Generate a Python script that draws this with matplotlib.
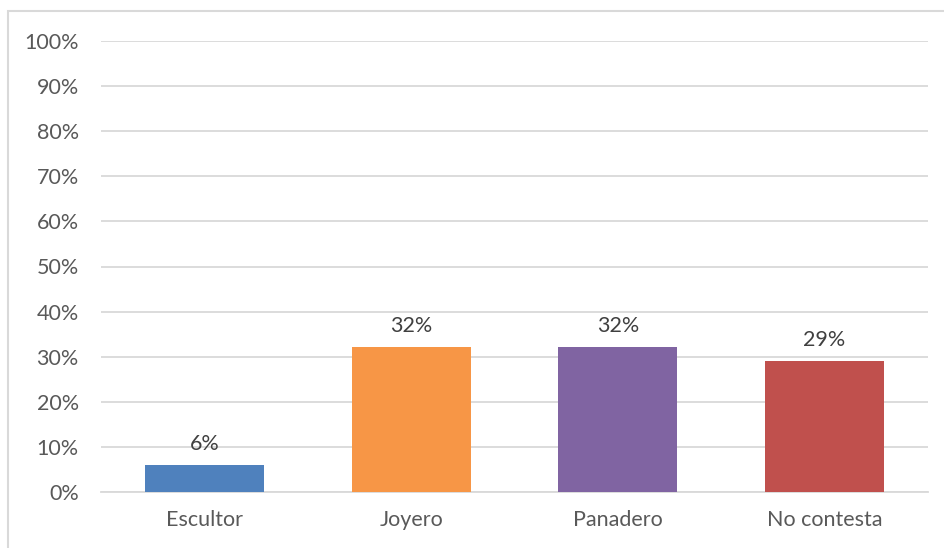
import matplotlib.pyplot as plt
from matplotlib.patches import Rectangle
from matplotlib.ticker import PercentFormatter

# data
categorias = ['Escultor', 'Joyero', 'Panadero', 'No contesta']
porcentajes = [0.060, 0.322, 0.322, 0.290]
etiquetas = ['6%', '32%', '32%', '29%']
colores = ['#4F81BD', '#F79646', '#8064A2', '#C0504D']

plt.rcParams['font.family'] = ['Lato', 'DejaVu Sans']

fig = plt.figure(figsize=(9.44, 5.48), dpi=100)
ax = fig.add_axes([101 / 944, 56 / 548, 827 / 944, 451 / 548])

x = range(len(categorias))
bars = ax.bar(x, porcentajes, width=0.575, color=colores, zorder=3)

# data labels
for b, t in zip(bars, etiquetas):
    ax.annotate(t, (b.get_x() + b.get_width() / 2, b.get_height()),
                xytext=(0, 8), textcoords='offset points',
                ha='center', va='bottom', fontsize=15.5, color='#404040')

ax.set_xlim(-0.5, len(categorias) - 0.5)
ax.set_ylim(0, 1)
ax.set_yticks([i / 10 for i in range(11)])
ax.yaxis.set_major_formatter(PercentFormatter(1.0, decimals=0))
ax.set_xticks(list(x))
ax.set_xticklabels(categorias)
ax.tick_params(axis='y', length=0, pad=16, labelsize=15.5, labelcolor='#595959')
ax.tick_params(axis='x', length=0, pad=13, labelsize=15.5, labelcolor='#595959')
ax.grid(axis='y', color='#D9D9D9', linewidth=1.3, zorder=0)
for s in ['top', 'right', 'left']:
    ax.spines[s].set_visible(False)
ax.spines['bottom'].set_color('#D9D9D9')
ax.spines['bottom'].set_linewidth(1.3)

# chart border (cut off at right and bottom)
fig.patches.append(Rectangle((7.5 / 944, -0.1), 1.2, 1.1 - 11.5 / 548,
                             transform=fig.transFigure, fill=False,
                             edgecolor='#D9D9D9', linewidth=1.5))

plt.savefig('out.png', dpi=100)
